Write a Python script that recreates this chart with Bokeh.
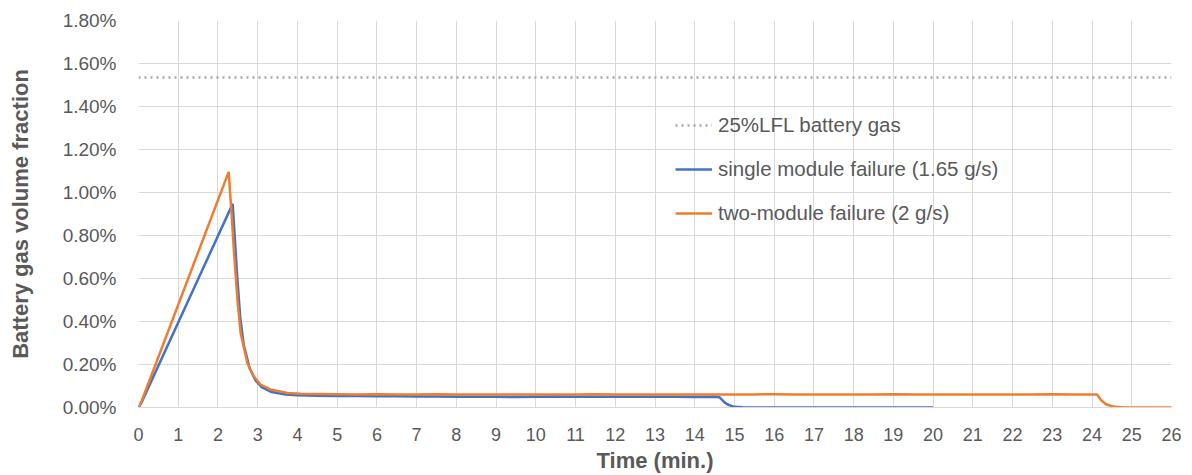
from bokeh.plotting import figure
from bokeh.models import FixedTicker, NumeralTickFormatter, Range1d, Legend, LegendItem
from bokeh.embed import file_html
from bokeh.resources import INLINE

# ---- data (y values in percent) ----
lfl_pct = 1.535

x_single = [0, 0.08, 2.37, 2.42, 2.48, 2.56, 2.65, 2.80, 2.95, 3.10, 3.35, 3.70, 4.0,
            4.5, 5.0, 5.5, 6.0, 6.5, 7.0, 7.5, 8.0, 8.5, 9.0, 9.5, 10.0, 10.5, 11.0,
            11.5, 12.0, 12.5, 13.0, 13.5, 14.0, 14.5,
            14.62, 14.75, 14.83, 14.99, 15.2, 15.5, 20.0]
y_single_pct = [0, 0.025, 0.947, 0.80, 0.62, 0.42, 0.29, 0.18, 0.125, 0.095, 0.072, 0.060, 0.057,
                0.055, 0.054, 0.053, 0.052, 0.052, 0.051, 0.051, 0.050, 0.050, 0.050, 0.049, 0.050,
                0.051, 0.050, 0.050, 0.050, 0.050, 0.050, 0.050, 0.049, 0.050,
                0.048, 0.024, 0.014, 0.003, 0.001, 0.0, 0.0]

x_two = [0, 0.08, 2.27, 2.33, 2.40, 2.49, 2.57, 2.74, 2.90, 3.07, 3.32, 3.75, 4.08,
         4.5, 5.0, 5.5, 6.0, 6.5, 7.0, 7.5, 8.0, 8.5, 9.0, 9.5, 10.0, 10.5, 11.0, 11.5,
         12.0, 12.5, 13.0, 13.5, 14.0, 14.5, 15.0, 15.5, 16.0, 16.5, 17.0, 17.5, 18.0,
         18.5, 19.0, 19.5, 20.0, 20.5, 21.0, 21.5, 22.0, 22.5, 23.0, 23.5, 24.0,
         24.13, 24.23, 24.36, 24.57, 24.82, 25.0, 26.0]
y_two_pct = [0, 0.03, 1.096, 0.934, 0.733, 0.501, 0.347, 0.207, 0.145, 0.107, 0.084, 0.068, 0.064,
             0.063, 0.062, 0.061, 0.062, 0.061, 0.061, 0.062, 0.061, 0.061, 0.060, 0.061, 0.060,
             0.061, 0.061, 0.062, 0.061, 0.061, 0.061, 0.060, 0.061, 0.061, 0.060, 0.061, 0.062,
             0.061, 0.061, 0.060, 0.061, 0.061, 0.062, 0.061, 0.061, 0.061, 0.060, 0.061, 0.061,
             0.061, 0.062, 0.061, 0.060,
             0.060, 0.034, 0.014, 0.003, 0.0, 0.0, 0.0]

x_ticks = list(range(0, 27))
y_ticks_pct = [0.0, 0.2, 0.4, 0.6, 0.8, 1.0, 1.2, 1.4, 1.6, 1.8]

labels = ["25%LFL battery gas", "single module failure (1.65 g/s)", "two-module failure (2 g/s)"]

FONT = "Liberation Sans"
TXT = "#595959"
GRID = "#d9d9d9"

p = figure(width=1192, height=475, output_backend="svg", toolbar_location=None,
           x_range=Range1d(0, 26), y_range=Range1d(0, 0.018),
           min_border_left=138, min_border_right=21, min_border_top=20, min_border_bottom=67)
p.outline_line_color = None

p.xaxis.ticker = FixedTicker(ticks=x_ticks)
p.yaxis.ticker = FixedTicker(ticks=[round(v / 100, 6) for v in y_ticks_pct])
p.yaxis.formatter = NumeralTickFormatter(format="0.00%")

for ax in (p.xaxis, p.yaxis):
    ax.major_tick_line_color = None
    ax.minor_tick_line_color = None
    ax.major_label_text_font = FONT
    ax.major_label_text_color = TXT
    ax.axis_label_text_font = FONT
    ax.axis_label_text_font_size = "22px"
    ax.axis_label_text_font_style = "bold"
    ax.axis_label_text_color = TXT
p.xaxis.major_label_text_font_size = "18px"
p.yaxis.major_label_text_font_size = "19px"
p.yaxis.axis_line_color = None
p.xaxis.axis_line_color = GRID
p.xaxis.axis_label = "Time (min.)"
p.yaxis.axis_label = "Battery gas volume fraction"
p.yaxis.major_label_standoff = 16
p.xaxis.major_label_standoff = 14
p.yaxis.axis_label_standoff = 27
p.xaxis.axis_label_standoff = 4

p.xgrid.grid_line_color = GRID
p.ygrid.grid_line_color = GRID

r_lfl = p.line([0, 26], [lfl_pct / 100] * 2, line_color="#a5a5a5", line_width=2.5, line_dash="2 4")
r_one = p.line(x_single, [v / 100 for v in y_single_pct], line_color="#4472C4", line_width=2.5)
r_two = p.line(x_two, [v / 100 for v in y_two_pct], line_color="#ED7D31", line_width=2.5)

legend = Legend(items=[LegendItem(label=labels[0], renderers=[r_lfl]),
                       LegendItem(label=labels[1], renderers=[r_one]),
                       LegendItem(label=labels[2], renderers=[r_two])],
                location=(537, 182), padding=0, margin=0, spacing=20,
                glyph_width=37, glyph_height=20, label_height=20, label_standoff=6,
                label_text_font=FONT, label_text_font_size="20.5px", label_text_color=TXT,
                border_line_color=None, background_fill_alpha=0)
p.add_layout(legend, "center")

open("out.html", "w").write(file_html(p, INLINE))
